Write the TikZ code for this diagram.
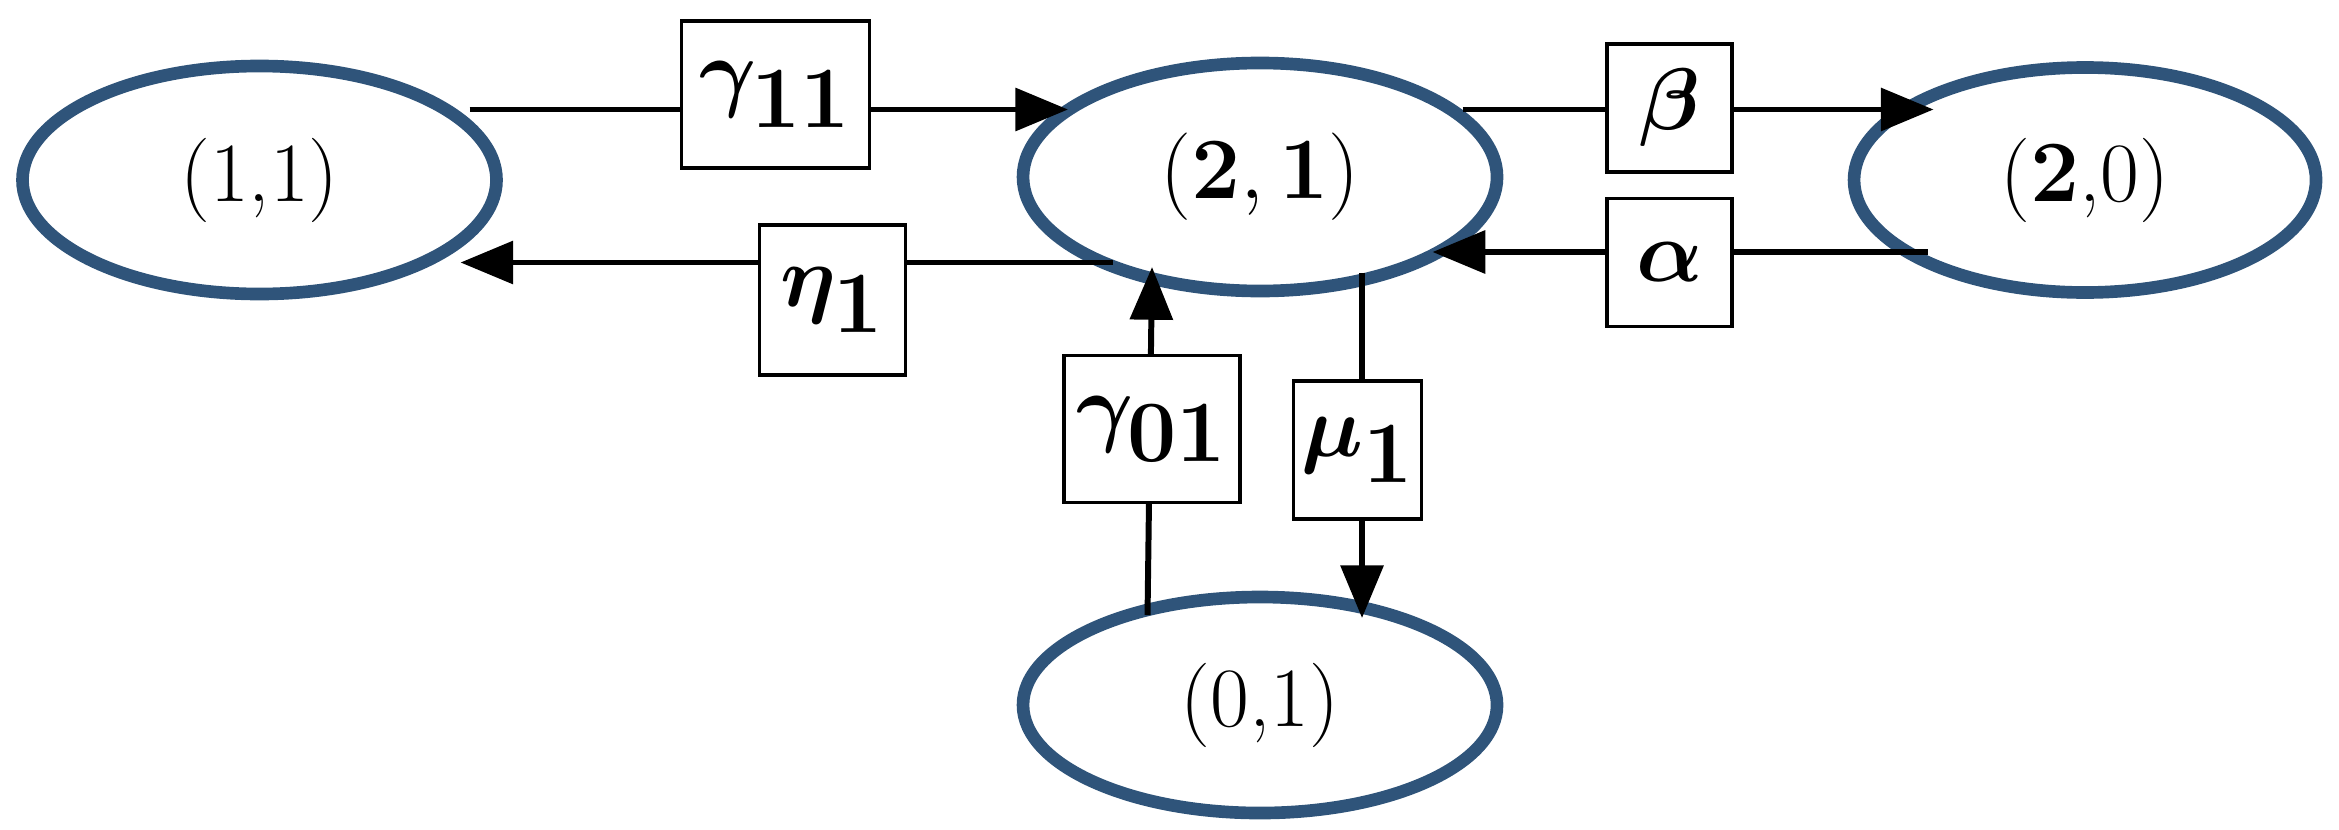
\documentclass[tikz,border=0pt]{standalone}
\usepackage{bm}
\usetikzlibrary{shapes.geometric,arrows.meta}
\begin{document}
\begin{tikzpicture}[x=0.015cm,y=-0.015cm,
  st/.style={ellipse,draw={rgb,255:red,47;green,84;blue,122},line width=3.6pt,minimum width=4.74cm,minimum height=2.28cm,font=\fontsize{24}{30}\selectfont},
  lb/.style={draw,line width=1.1pt,fill=white,font=\fontsize{34}{40}\selectfont,inner sep=0pt},
  ar/.style={line width=1.7pt,-{Triangle[length=15pt,width=12pt]}}]
\useasboundingbox (0,0) rectangle (1559.3,553.3);
\node[st] (s11) at (173,120) {(1,1)};
\node[st] (s21) at (840,118) {$(\mathbf{2},\mathbf{1})$};
\node[st,minimum width=4.62cm,minimum height=2.25cm] (s20) at (1390,120) {($\mathbf{2}$,0)};
\node[st,minimum height=2.16cm] (s01) at (840,470) {(0,1)};
\coordinate (a1) at (313,73); \coordinate (a2) at (712,73);
\coordinate (b1) at (742,175); \coordinate (b2) at (307,175);
\coordinate (c1) at (975,73); \coordinate (c2) at (1289,73);
\coordinate (d1) at (1285,168); \coordinate (d2) at (955,168);
\coordinate (e1) at (765,410); \coordinate (e2) at (768,178);
\coordinate (f1) at (908,182); \coordinate (f2) at (908,412);
\draw[ar] (a1) -- (a2);
\draw[ar] (b1) -- (b2);
\draw[ar] (c1) -- (c2);
\draw[ar] (d1) -- (d2);
\draw[ar] (e1) -- (e2);
\draw[ar] (f1) -- (f2);
\node[lb,minimum width=1.88cm,minimum height=1.47cm] (g11) at (517,63) {$\bm{\gamma}_{\mathbf{11}}$};
\node[lb,minimum width=1.46cm,minimum height=1.5cm] (eta) at (555,200) {$\bm{\eta}_{\mathbf{1}}$};
\node[lb,minimum width=1.25cm,minimum height=1.28cm] (be) at (1113,72) {$\bm{\beta}$};
\node[lb,minimum width=1.25cm,minimum height=1.28cm] (al) at (1113,175) {$\bm{\alpha}$};
\node[lb,minimum width=1.76cm,minimum height=1.47cm] (g01) at (768,286) {$\bm{\gamma}_{\mathbf{01}}$};
\node[lb,minimum width=1.28cm,minimum height=1.38cm] (mu) at (905,300) {$\bm{\mu}_{\mathbf{1}}$};
\end{tikzpicture}
\end{document}
